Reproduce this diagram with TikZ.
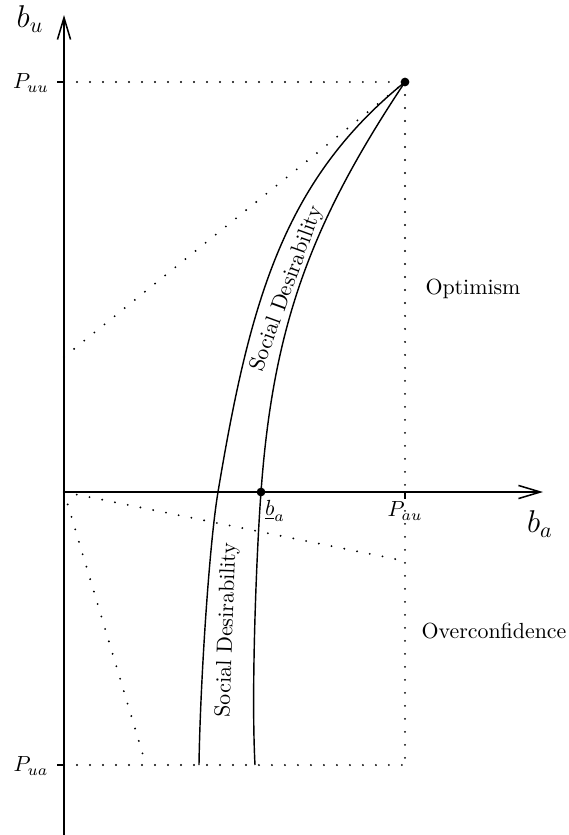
\documentclass[tikz,border=0pt]{standalone}
\usetikzlibrary{arrows.meta}
\begin{document}
\begin{tikzpicture}[x=0.457pt,y=-0.457pt,
  axis/.style={line width=0.75pt,-{Straight Barb[length=10pt,width=6pt,line width=0.7pt]}},
  dotline/.style={line width=0.95pt,line cap=round,dash pattern=on 0pt off 5.94pt},
  curve/.style={line width=0.65pt},
  dotmark/.style={circle,fill=black,inner sep=0pt,minimum size=4pt},
  biglab/.style={font=\fontsize{14}{16}\selectfont},
  ticklab/.style={inner sep=1pt}]
\useasboundingbox (0,0) rectangle (569,835);
% named points
\coordinate (O) at (64,492);
\coordinate (Yend) at (64,15);
\coordinate (Ybot) at (64,835);
\coordinate (Xend) at (543,492);
\coordinate (Puu) at (64,82);
\coordinate (Pua) at (64,765);
\coordinate (Pau) at (405,492);
\coordinate (T) at (405,82);
\coordinate (B) at (405,765);
\coordinate (D1) at (64,357);
\coordinate (D2) at (405,561);
\coordinate (D3) at (146,765);
\coordinate (BA) at (261,492);
\coordinate (LA) at (218,492);
\coordinate (LB) at (199,765);
\coordinate (RB) at (255,765);
% dotted guides
\draw[dotline] (Puu) -- (T);
\draw[dotline] (T) -- (B);
\draw[dotline] (Pua) -- (B);
\draw[dotline] (D1) -- (T);
\draw[dotline] (O) -- (D2);
\draw[dotline] (O) -- (D3);
% curves
\draw[curve] (T) .. controls (284,180) and (250,300) .. (LA)
  .. controls (208.8,547) and (200,690) .. (LB);
\draw[curve] (T) .. controls (310,224.5) and (273,327) .. (BA)
  .. controls (256.6,551) and (251,690) .. (RB);
% axes
\draw[axis] (Ybot) -- (Yend);
\draw[axis] (O) -- (Xend);
% ticks
\draw[line width=0.75pt] (Puu) -- ++(-7,0);
\draw[line width=0.75pt] (Pua) -- ++(-7,0);
\draw[line width=0.75pt] (Pau) -- ++(0,7);
% points
\node[dotmark] (top) at (T) {};
\node[dotmark] (bad) at (BA) {};
% labels
\node[biglab] (lbu) at (30,19) {$b_u$};
\node[biglab] (lba) at (540,524) {$b_a$};
\node (lpuu) at (31,83) {$P_{uu}$};
\node (lpua) at (31,766) {$P_{ua}$};
\node (lpau) at (405,511) {$P_{au}$};
\node (lbal) at (275,511) {$\underline{b}_a$};
\node (lopt) at (473,289) {Optimism};
\node (lover) at (494,631) {Overconfidence};
\node[rotate=70] (sd1) at (287,289) {Social Desirability};
\node[rotate=88] (sd2) at (227,630) {Social Desirability};
\end{tikzpicture}
\end{document}
